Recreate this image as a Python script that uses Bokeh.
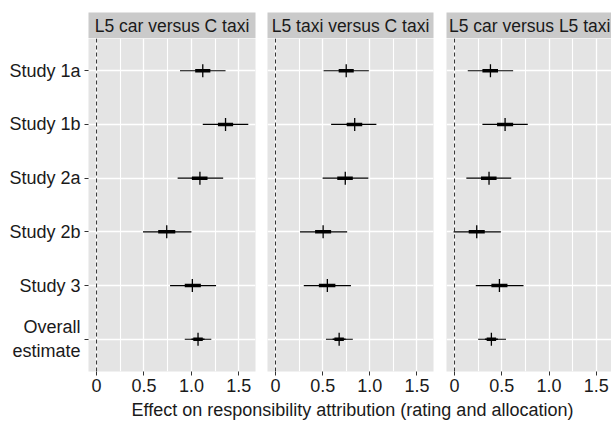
from bokeh.plotting import figure
from bokeh.models import Range1d, FactorRange, FixedTicker, Span, ColumnDataSource, CustomJSTickFormatter
from bokeh.layouts import row, column
from bokeh.embed import file_html
from bokeh.resources import INLINE
from bokeh.core.properties import value

# ---------------- data ----------------
studies = ["Study 1a", "Study 1b", "Study 2a", "Study 2b", "Study 3", "Overall\nestimate"]
comparisons = ["L5 car versus C taxi", "L5 taxi versus C taxi", "L5 car versus L5 taxi"]
x_title = "Effect on responsibility attribution (rating and allocation)"
tick_values = [0, 0.5, 1.0, 1.5]
minor_tick_values = [0.25, 0.75, 1.25]

# L5 car versus C taxi
est_car_ctaxi = [1.12, 1.36, 1.09, 0.74, 1.01, 1.07]
lo95_car_ctaxi = [0.88, 1.12, 0.855, 0.49, 0.775, 0.93]
hi95_car_ctaxi = [1.36, 1.60, 1.335, 1.00, 1.26, 1.21]
lo50_car_ctaxi = [1.04, 1.28, 1.005, 0.65, 0.93, 1.02]
hi50_car_ctaxi = [1.20, 1.44, 1.17, 0.83, 1.10, 1.12]

# L5 taxi versus C taxi
est_taxi_ctaxi = [0.75, 0.84, 0.74, 0.505, 0.55, 0.675]
lo95_taxi_ctaxi = [0.51, 0.59, 0.50, 0.26, 0.30, 0.535]
hi95_taxi_ctaxi = [0.99, 1.07, 0.985, 0.76, 0.80, 0.82]
lo50_taxi_ctaxi = [0.67, 0.755, 0.655, 0.42, 0.46, 0.625]
hi50_taxi_ctaxi = [0.83, 0.92, 0.82, 0.59, 0.635, 0.725]

# L5 car versus L5 taxi
est_car_taxi = [0.38, 0.535, 0.365, 0.235, 0.475, 0.39]
lo95_car_taxi = [0.14, 0.295, 0.125, -0.01, 0.225, 0.25]
hi95_car_taxi = [0.62, 0.775, 0.60, 0.49, 0.73, 0.545]
lo50_car_taxi = [0.295, 0.45, 0.28, 0.15, 0.39, 0.34]
hi50_car_taxi = [0.46, 0.62, 0.445, 0.32, 0.56, 0.44]

panel_data = [
    (est_car_ctaxi, lo95_car_ctaxi, hi95_car_ctaxi, lo50_car_ctaxi, hi50_car_ctaxi),
    (est_taxi_ctaxi, lo95_taxi_ctaxi, hi95_taxi_ctaxi, lo50_taxi_ctaxi, hi50_taxi_ctaxi),
    (est_car_taxi, lo95_car_taxi, hi95_car_taxi, lo50_car_taxi, hi50_car_taxi),
]

# ---------------- style / layout ----------------
FONT = "Liberation Sans"
TXT = "#1A1A1A"
PANEL_BG = "#E4E4E4"
STRIP_BG = "#CACACA"
X_START = -0.085
x_ends = [1.676, 1.676, 1.661]
frame_widths = [167, 166, 165]
left_borders = [88, 6, 7]
right_borders = [6, 6, 0]
FRAME_H = 333
STRIP_H = 26
STRIP_TOP = 12
BOTTOM = 28

cols = []
for i in range(3):
    est, lo95, hi95, lo50, hi50 = panel_data[i]
    W = left_borders[i] + frame_widths[i] + right_borders[i]
    xr = Range1d(X_START, x_ends[i])
    yr = FactorRange(factors=studies[::-1], range_padding=0.1, range_padding_units="absolute")

    strip = figure(width=W, height=STRIP_H + STRIP_TOP, x_range=xr, y_range=Range1d(0, 1),
                   x_axis_type=None, y_axis_type=None,
                   min_border_left=left_borders[i], min_border_right=right_borders[i],
                   min_border_top=STRIP_TOP, min_border_bottom=0,
                   background_fill_color=STRIP_BG, border_fill_color="white",
                   outline_line_color=None, toolbar_location=None, output_backend="svg")
    strip.text(x=[(X_START + x_ends[0]) / 2], y=[0.5], text=[comparisons[i]],
               text_align="center", text_baseline="middle",
               text_font=value(FONT), text_font_size="17.5px", text_color=TXT)

    p = figure(width=W, height=FRAME_H + BOTTOM, x_range=xr, y_range=yr,
               min_border_left=left_borders[i], min_border_right=right_borders[i],
               min_border_top=0, min_border_bottom=BOTTOM,
               background_fill_color=PANEL_BG, border_fill_color="white",
               outline_line_color=None, toolbar_location=None, output_backend="svg")

    src = ColumnDataSource(dict(study=studies, est=est, lo95=lo95, hi95=hi95, lo50=lo50, hi50=hi50))

    p.xaxis.ticker = FixedTicker(ticks=tick_values, minor_ticks=minor_tick_values)
    p.xaxis.formatter = CustomJSTickFormatter(code="return tick == 0 ? '0' : tick.toFixed(1);")
    p.xaxis.axis_line_color = None
    p.xaxis.major_tick_line_color = "#333333"
    p.xaxis.major_tick_out = 4
    p.xaxis.major_tick_in = 0
    p.xaxis.minor_tick_out = 0
    p.xaxis.minor_tick_in = 0
    p.xaxis.major_label_standoff = 3
    p.xaxis.major_label_text_font = FONT
    p.xaxis.major_label_text_font_size = "18px"
    p.xaxis.major_label_text_color = TXT

    p.xgrid.grid_line_color = "white"
    p.xgrid.grid_line_width = 1.3
    p.xgrid.minor_grid_line_color = "white"
    p.xgrid.minor_grid_line_width = 1.1
    p.ygrid.grid_line_color = "white"
    p.ygrid.grid_line_width = 1.3

    if i == 0:
        p.yaxis.axis_line_color = None
        p.yaxis.major_tick_line_color = "#333333"
        p.yaxis.major_tick_out = 4
        p.yaxis.major_tick_in = 0
        p.yaxis.major_label_standoff = 4
        p.yaxis.major_label_text_font = FONT
        p.yaxis.major_label_text_font_size = "18px"
        p.yaxis.major_label_text_color = TXT
    else:
        p.yaxis.visible = False

    p.add_layout(Span(location=0, dimension="height", line_color="#333333",
                      line_dash="4 3", line_width=1, level="underlay"))
    p.segment(x0="lo95", y0="study", x1="hi95", y1="study", source=src,
              line_color="black", line_width=1.2)
    p.segment(x0="lo50", y0="study", x1="hi50", y1="study", source=src,
              line_color="black", line_width=3.5)
    p.scatter(x="est", y="study", marker="cross", size=13, line_width=1.3,
              line_color="black", source=src)

    cols.append(column(strip, p))

# shared x-axis title
t = figure(width=611, height=23, x_range=Range1d(0, 1), y_range=Range1d(0, 1),
           y_axis_type=None, min_border_left=93, min_border_right=0,
           min_border_top=0, min_border_bottom=0, outline_line_color=None,
           background_fill_color="white", border_fill_color="white",
           toolbar_location=None, output_backend="svg")
t.xaxis.ticker = FixedTicker(ticks=[])
t.xaxis.axis_line_color = None
t.xaxis.major_tick_line_color = None
t.xaxis.minor_tick_line_color = None
t.xaxis.major_tick_out = 0
t.xaxis.major_label_standoff = 0
t.xaxis.axis_label = x_title
t.xaxis.axis_label_standoff = 0
t.xaxis.axis_label_text_font = FONT
t.xaxis.axis_label_text_font_size = "18px"
t.xaxis.axis_label_text_font_style = "normal"
t.xaxis.axis_label_text_color = TXT
t.xgrid.visible = False

layout = column(row(*cols), t)
open("out.html", "w").write(file_html(layout, INLINE))
